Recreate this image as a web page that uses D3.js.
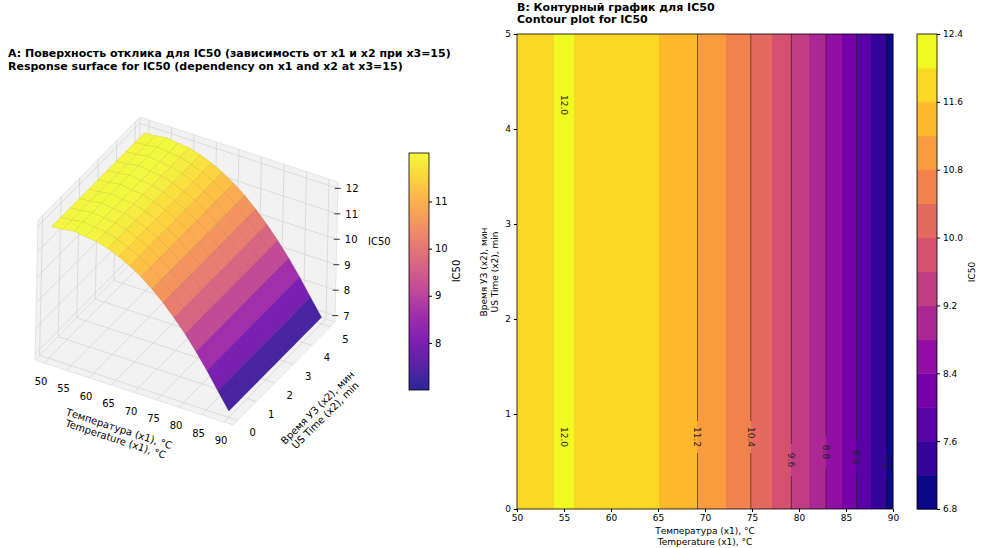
<!DOCTYPE html>
<html><head><meta charset="utf-8">
<script src="https://cdn.jsdelivr.net/npm/d3@7"></script>
<style>body{margin:0;background:#fff}svg{font-family:"DejaVu Sans",sans-serif}</style>
</head><body><svg id="c" width="1003" height="548"></svg>
<script>
// temperature grid and IC50 (x3 = 15, no x2 dependence)
const x1Vals = [50, 52.5, 55, 57.5, 60, 62.5, 65, 67.5, 70, 72.5, 75, 77.5, 80, 82.5, 85, 87.5, 90];
const ic50 = [11.92, 11.96, 12.03, 11.96, 11.92, 11.79, 11.61, 11.39, 11.11, 10.77, 10.38, 9.93, 9.44, 8.89, 8.29, 7.64, 7.0];
const x2Vals = [0, 0.5, 1, 1.5, 2, 2.5, 3, 3.5, 4, 4.5, 5];
const levels = d3.range(14 + 1).map(i => +(6.8 + i * 0.4).toFixed(1));
const lineLevels = ['7.2', '8.0', '8.8', '9.6', '10.4', '11.2', '12.0'];
const x1Ticks = [50, 55, 60, 65, 70, 75, 80, 85, 90];
const x2Ticks = [0, 1, 2, 3, 4, 5];
const zTicks = [7, 8, 9, 10, 11, 12];

const svg = d3.select('#c');
const f = d3.scaleLinear().domain(x1Vals).range(ic50);

// ---------- A: 3D surface ----------
svg.append('text').attr('x', 8).attr('y', 57).attr('font-size', 11).attr('font-weight', 'bold')
  .text('A: Поверхность отклика для IC50 (зависимость от x1 и x2 при x3=15)');
svg.append('text').attr('x', 8).attr('y', 70).attr('font-size', 11).attr('font-weight', 'bold')
  .text('Response surface for IC50 (dependency on x1 and x2 at x3=15)');

const s1 = d3.scaleLinear().domain([48, 92]).range([0, 1]);
const s2 = d3.scaleLinear().domain([-0.25, 5.25]).range([0, 1]);
const s3 = d3.scaleLinear().domain([6.75, 12.25]).range([0, 1]);
const O = [35, 360], A = [198, 65], B = [102, -103], C = [3, -140];
function P(x1, x2, z) {
  const u = s1(x1), v = s2(x2), w = s3(z);
  return [O[0] + u * A[0] + v * B[0] + w * C[0], O[1] + u * A[1] + v * B[1] + w * C[1]];
}
const g3 = svg.append('g');
const pane = pts => g3.append('path').attr('d', 'M' + pts.map(p => P(...p).join(',')).join('L') + 'Z')
  .attr('fill', '#f2f2f2').attr('stroke', '#e0e0e0').attr('stroke-width', 0.8);
pane([[48, -0.25, 6.75], [48, 5.25, 6.75], [48, 5.25, 12.25], [48, -0.25, 12.25]]);
pane([[48, 5.25, 6.75], [92, 5.25, 6.75], [92, 5.25, 12.25], [48, 5.25, 12.25]]);
pane([[48, -0.25, 6.75], [92, -0.25, 6.75], [92, 5.25, 6.75], [48, 5.25, 6.75]]);
const gl = (a, b) => g3.append('line').attr('x1', P(...a)[0]).attr('y1', P(...a)[1])
  .attr('x2', P(...b)[0]).attr('y2', P(...b)[1]).attr('stroke', '#d6d6d6').attr('stroke-width', 0.8);
x1Ticks.forEach(t => { gl([t, -0.25, 6.75], [t, 5.25, 6.75]); gl([t, 5.25, 6.75], [t, 5.25, 12.25]); });
x2Ticks.forEach(t => { gl([48, t, 6.75], [92, t, 6.75]); gl([48, t, 6.75], [48, t, 12.25]); });
zTicks.forEach(t => { gl([48, -0.25, t], [48, 5.25, t]); gl([48, 5.25, t], [92, 5.25, t]); });

const zMin = d3.min(ic50), zMax = d3.max(ic50);
const col3 = d3.scaleSequential(d3.interpolatePlasma).domain([zMin, zMax]);
const quads = [];
for (let i = 0; i < x1Vals.length - 1; i++) for (let j = 0; j < x2Vals.length - 1; j++) {
  const pts = [[i, j], [i + 1, j], [i + 1, j + 1], [i, j + 1]].map(([a, b]) => P(x1Vals[a], x2Vals[b], ic50[a]));
  quads.push({ pts, z: (ic50[i] + ic50[i + 1]) / 2, d: s1(x1Vals[i]) - s2(x2Vals[j]) });
}
quads.sort((a, b) => a.d - b.d);
g3.selectAll('path.q').data(quads).join('path').attr('class', 'q')
  .attr('d', q => 'M' + q.pts.map(p => p.join(',')).join('L') + 'Z')
  .attr('fill', q => d3.interpolateRgb(col3(q.z), '#fff')(0.12))
  .attr('stroke', q => d3.interpolateRgb(col3(q.z), '#000')(0.2)).attr('stroke-width', 0.3);

// axis ticks
x1Ticks.forEach(t => { const p = P(t, -0.25, 6.75);
  g3.append('text').attr('x', p[0] - 3).attr('y', p[1] + 22).attr('font-size', 10).attr('text-anchor', 'middle').text(t); });
x2Ticks.forEach(t => { const p = P(92, t, 6.75);
  g3.append('text').attr('x', p[0] + 15).attr('y', p[1] + 16).attr('font-size', 10).attr('text-anchor', 'middle').text(t); });
zTicks.forEach(t => { const p = P(92, 5.25, t);
  g3.append('line').attr('x1', p[0] - 3).attr('y1', p[1]).attr('x2', p[0] + 3).attr('y2', p[1]).attr('stroke', '#333');
  g3.append('text').attr('x', p[0] + 8).attr('y', p[1] + 4).attr('font-size', 10).text(t); });
g3.append('text').attr('transform', 'translate(118,432) rotate(18)').attr('font-size', 10).attr('text-anchor', 'middle')
  .selectAll('tspan').data(['Температура (x1), °C', 'Temperature (x1), °C']).join('tspan')
  .attr('x', 0).attr('dy', (d, i) => i ? 11 : 0).text(d => d);
g3.append('text').attr('transform', 'translate(320,410) rotate(-45)').attr('font-size', 10).attr('text-anchor', 'middle')
  .selectAll('tspan').data(['Время УЗ (x2), мин', 'US Time (x2), min']).join('tspan')
  .attr('x', 0).attr('dy', (d, i) => i ? 11 : 0).text(d => d);
g3.append('text').attr('x', 368).attr('y', 245).attr('font-size', 10).text('IC50');

// colorbar A
const cbA = d3.scaleLinear().domain([zMin, zMax]).range([390, 153]);
const defs = svg.append('defs');
const lg = defs.append('linearGradient').attr('id', 'gA').attr('x1', 0).attr('y1', 1).attr('x2', 0).attr('y2', 0);
d3.range(11).forEach(i => lg.append('stop').attr('offset', i / 10).attr('stop-color', d3.interpolateRgb(d3.interpolatePlasma(i / 10), '#fff')(0.12)));
svg.append('rect').attr('x', 409).attr('y', 153).attr('width', 20).attr('height', 237).attr('fill', 'url(#gA)').attr('stroke', '#000').attr('stroke-width', 0.8);
svg.append('g').attr('transform', 'translate(429,0)').call(d3.axisRight(cbA).tickValues([8, 9, 10, 11]).tickFormat(d3.format('d')).tickSize(3))
  .call(g => { g.select('.domain').remove(); g.selectAll('text').attr('font-size', 10).attr('font-family', 'DejaVu Sans'); });
svg.append('text').attr('transform', 'translate(460,271) rotate(-90)').attr('font-size', 10).attr('text-anchor', 'middle').text('IC50');

// ---------- B: contour ----------
svg.append('text').attr('x', 517).attr('y', 11).attr('font-size', 11).attr('font-weight', 'bold').text('B: Контурный график для IC50');
svg.append('text').attr('x', 517).attr('y', 23).attr('font-size', 11).attr('font-weight', 'bold').text('Contour plot for IC50');
const xs = d3.scaleLinear().domain([50, 90]).range([517, 893]);
const ys = d3.scaleLinear().domain([0, 5]).range([509, 34]);
const band = v => Math.min(levels.length - 2, Math.max(0, Math.floor((v - 6.8) / 0.4)));
const bandCol = i => d3.interpolatePlasma(i / (levels.length - 2));
const gB = svg.append('g');
const cols = d3.range(517, 893).map(px => ({ px, b: band(f(xs.invert(px + 0.5))) }));
gB.selectAll('rect').data(cols).join('rect').attr('x', d => d.px).attr('y', 34).attr('width', 1.2).attr('height', 475)
  .attr('fill', d => bandCol(d.b));
const labelY = { '7.2': 462, '8.0': 457, '8.8': 452, '9.6': 460, '10.4': 437, '11.2': 437, '12.0': 437 };
lineLevels.forEach(key => {
  const L = +key;
  let xsCross = [];
  for (let k = 0; k < x1Vals.length - 1; k++) {
    const a = ic50[k], b = ic50[k + 1];
    if ((a - L) * (b - L) < 0) xsCross.push(x1Vals[k] + (L - a) / (b - a) * 2.5);
  }
  // the 12.0 ring is a thin sliver: label it once, at its middle
  if (key === '12.0') xsCross = [d3.mean(xsCross)];
  const hidden = key === '12.0';
  xsCross.forEach(xc => {
    const px = xs(xc), ly = labelY[key];
    const ys2 = hidden ? [105, ly] : [ly];
    let y0 = 34;
    ys2.forEach(yy => {
      if (!hidden) gB.append('line').attr('x1', px).attr('x2', px).attr('y1', y0).attr('y2', yy - 16).attr('stroke', '#222').attr('stroke-width', 0.8).attr('opacity', 0.8);
      gB.append('text').attr('transform', `translate(${px - 3},${yy}) rotate(90)`).attr('font-size', 9).attr('text-anchor', 'middle').attr('fill', '#222').text(key);
      y0 = yy + 16;
    });
    if (!hidden) gB.append('line').attr('x1', px).attr('x2', px).attr('y1', y0).attr('y2', 509).attr('stroke', '#222').attr('stroke-width', 0.8).attr('opacity', 0.8);
  });
});
gB.append('rect').attr('x', 517).attr('y', 34).attr('width', 376).attr('height', 475).attr('fill', 'none').attr('stroke', '#000').attr('stroke-width', 0.8);
svg.append('g').attr('transform', 'translate(0,509)').call(d3.axisBottom(xs).tickValues(x1Ticks).tickSize(3))
  .call(g => { g.select('.domain').remove(); g.selectAll('text').attr('font-size', 9).attr('font-family', 'DejaVu Sans'); });
svg.append('g').attr('transform', 'translate(517,0)').call(d3.axisLeft(ys).tickValues(x2Ticks).tickFormat(d3.format('d')).tickSize(3))
  .call(g => { g.select('.domain').remove(); g.selectAll('text').attr('font-size', 9).attr('font-family', 'DejaVu Sans'); });
svg.append('text').attr('x', 705).attr('y', 534).attr('font-size', 9).attr('text-anchor', 'middle').text('Температура (x1), °C');
svg.append('text').attr('x', 705).attr('y', 545).attr('font-size', 9).attr('text-anchor', 'middle').text('Temperature (x1), °C');
svg.append('text').attr('transform', 'translate(487,272) rotate(-90)').attr('font-size', 9).attr('text-anchor', 'middle').text('Время УЗ (x2), мин');
svg.append('text').attr('transform', 'translate(498,272) rotate(-90)').attr('font-size', 9).attr('text-anchor', 'middle').text('US Time (x2), min');

// colorbar B
const cbB = d3.scaleLinear().domain([6.8, 12.4]).range([509, 34]);
svg.append('g').selectAll('rect').data(d3.range(levels.length - 1)).join('rect')
  .attr('x', 917).attr('width', 20).attr('y', i => cbB(levels[i + 1])).attr('height', i => cbB(levels[i]) - cbB(levels[i + 1]) + 0.5)
  .attr('fill', bandCol);
svg.append('rect').attr('x', 917).attr('y', 34).attr('width', 20).attr('height', 475).attr('fill', 'none').attr('stroke', '#000').attr('stroke-width', 0.8);
svg.append('g').attr('transform', 'translate(937,0)').call(d3.axisRight(cbB).tickValues([6.8, 7.6, 8.4, 9.2, 10.0, 10.8, 11.6, 12.4]).tickFormat(d3.format('.1f')).tickSize(3))
  .call(g => { g.select('.domain').remove(); g.selectAll('text').attr('font-size', 9).attr('font-family', 'DejaVu Sans'); });
svg.append('text').attr('transform', 'translate(975,272) rotate(-90)').attr('font-size', 9).attr('text-anchor', 'middle').text('IC50');
</script></body></html>
